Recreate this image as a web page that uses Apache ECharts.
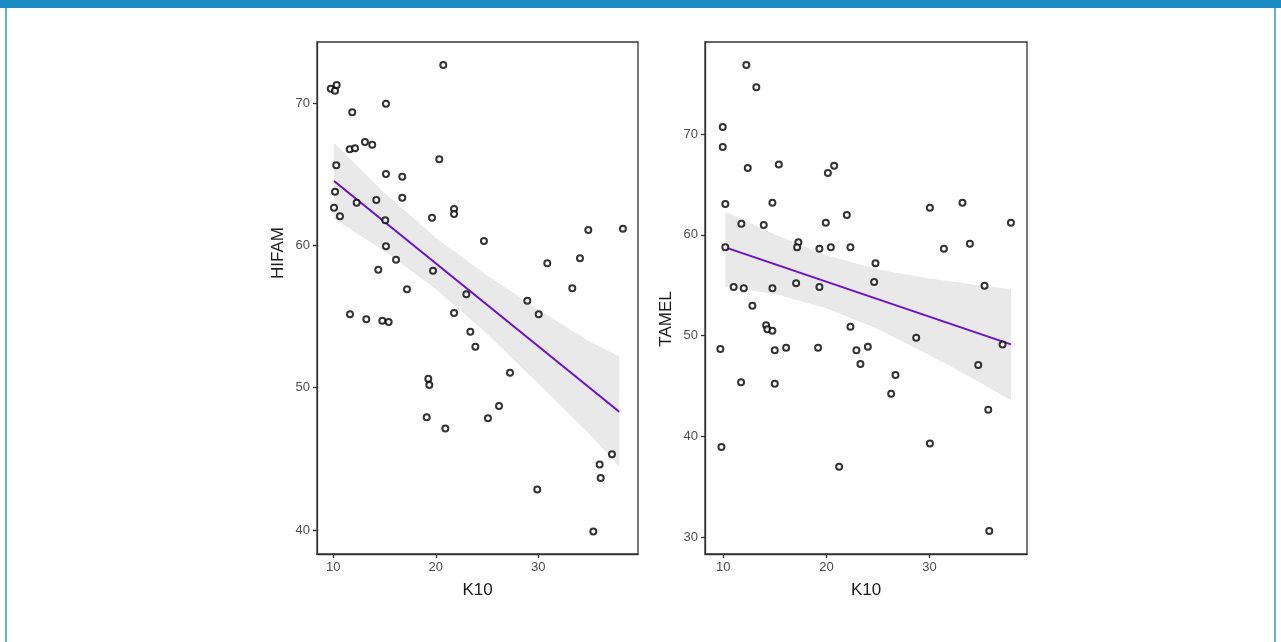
<!DOCTYPE html>
<html>
<head>
<meta charset="utf-8">
<script src="https://cdn.jsdelivr.net/npm/echarts@6/dist/echarts.min.js"></script>
<style>
html, body { margin: 0; padding: 0; background: #fff; }
#chart { width: 1281px; height: 642px; }
.bar { position: absolute; left: 0; top: 0; width: 1281px; height: 8px; background: #1b8ac3; }
.side { position: absolute; top: 8px; width: 2px; height: 634px; background: #5cb3dd; }
</style>
</head>
<body>
<div id="chart"></div>
<div class="bar"></div>
<div class="side" style="left:5px"></div>
<div class="side" style="left:1274px"></div>
<script>
// left panel: K10 vs HIFAM
var k10Left = [20.73, 9.75, 10.17, 10.33, 15.14, 11.85, 13.09, 13.8, 11.6, 12.12,
  20.34, 10.29, 15.14, 16.73, 10.17, 16.73, 12.28, 14.2, 10.07, 10.65,
  21.78, 21.78, 19.63, 15.07, 34.88, 38.26, 24.7, 15.14, 34.07, 30.88,
  16.12, 14.39, 19.73, 33.32, 17.19, 22.98, 28.93, 11.63, 13.22, 14.78,
  15.4, 21.78, 30.04, 23.37, 23.86, 27.24, 19.27, 19.37, 26.17, 19.11,
  25.09, 20.93, 37.19, 35.99, 36.09, 29.9, 35.37];
var hifam = [72.69, 71.03, 70.89, 71.29, 69.97, 69.37, 67.28, 67.09, 66.77, 66.84,
  66.06, 65.64, 65.03, 64.84, 63.78, 63.36, 63.01, 63.2, 62.66, 62.05,
  62.57, 62.22, 61.96, 61.77, 61.09, 61.18, 60.32, 59.94, 59.1, 58.75,
  59.0, 58.3, 58.23, 56.99, 56.92, 56.57, 56.12, 55.16, 54.81, 54.71,
  54.62, 55.25, 55.16, 53.94, 52.88, 51.06, 50.63, 50.19, 48.71, 47.92,
  47.85, 47.14, 45.32, 44.61, 43.65, 42.85, 39.9];

// right panel: K10 vs TAMEL
var k10Right = [12.23, 13.2, 9.94, 9.94, 12.37, 15.38, 20.14, 20.75, 10.19, 14.76,
  30.04, 33.2, 21.98, 11.75, 13.92, 19.94, 37.9, 17.28, 17.16, 19.32,
  20.43, 22.33, 33.92, 31.4, 10.19, 24.76, 24.63, 11.0, 11.98, 14.76,
  17.06, 19.32, 35.34, 12.82, 14.15, 14.27, 14.76, 22.33, 28.71, 9.71,
  14.99, 16.09, 19.19, 22.91, 24.02, 37.09, 23.3, 34.73, 26.7, 11.72,
  14.99, 26.28, 35.7, 9.81, 30.04, 21.23, 35.8];
var tamel = [76.85, 74.63, 70.69, 68.71, 66.63, 66.99, 66.13, 66.86, 63.06, 63.19,
  62.69, 63.19, 61.96, 61.1, 60.97, 61.2, 61.2, 59.26, 58.76, 58.62,
  58.76, 58.76, 59.12, 58.62, 58.76, 57.17, 55.32, 54.82, 54.69, 54.69,
  55.19, 54.82, 54.95, 52.97, 51.02, 50.63, 50.49, 50.89, 49.79, 48.67,
  48.54, 48.8, 48.8, 48.54, 48.9, 49.13, 47.18, 47.08, 46.09, 45.37,
  45.23, 44.24, 42.65, 38.95, 39.31, 37.0, 30.61];

// fitted lines (end points) and grey bands
var fitLeftX = [10.07, 37.9];
var fitLeftY = [64.54, 48.31];
var fitRightX = [10.19, 37.9];
var fitRightY = [58.76, 49.13];

var bandLeftX = [10.07, 15, 20, 25, 30, 35, 37.9];
var bandLeftHi = [67.2, 63.7, 60.55, 57.9, 55.5, 53.25, 52.2];
var bandLeftLo = [61.9, 59.6, 56.95, 53.8, 50.3, 46.75, 44.45];
var bandRightX = [10.19, 15, 20, 25, 30, 35, 37.9];
var bandRightHi = [62.3, 60.04, 57.97, 56.56, 55.68, 54.97, 54.6];
var bandRightLo = [54.85, 54.14, 52.73, 50.66, 48.08, 45.31, 43.6];

var xTicks = [10, 20, 30];
var yTicksLeft = [40, 50, 60, 70];
var yTicksRight = [30, 40, 50, 60, 70];

var font = 'Liberation Sans, Arial, sans-serif';
var myChart = echarts.init(document.getElementById('chart'));

function zip(a, b) {
  return a.map(function (v, i) { return [v, b[i]]; });
}

function xAxisFor(gi, min, max) {
  return {
    type: 'value', gridIndex: gi, min: min, max: max,
    name: 'K10', nameLocation: 'middle', nameGap: 28,
    nameTextStyle: { fontSize: 17, color: '#1a1a1a', fontFamily: font },
    axisLine: { show: true, lineStyle: { color: '#333', width: 1.3 } },
    axisTick: { show: true, length: 4, customValues: xTicks, lineStyle: { color: '#333', width: 1.3 } },
    axisLabel: { customValues: xTicks, fontSize: 13, color: '#4d4d4d', margin: 7, fontFamily: font },
    splitLine: { show: false }
  };
}

function yAxisFor(gi, min, max, name, ticks, pad) {
  return {
    type: 'value', gridIndex: gi, min: min, max: max,
    name: name, nameLocation: 'middle', nameGap: 30,
    nameTextStyle: { fontSize: 17, color: '#1a1a1a', fontFamily: font, padding: pad },
    axisLine: { show: true, lineStyle: { color: '#333', width: 1.3 } },
    axisTick: { show: true, length: 4, customValues: ticks, lineStyle: { color: '#333', width: 1.3 } },
    axisLabel: { customValues: ticks, fontSize: 13, color: '#4d4d4d', margin: 7, fontFamily: font },
    splitLine: { show: false }
  };
}

function band(gi, xs, hi, lo) {
  return {
    type: 'custom', xAxisIndex: gi, yAxisIndex: gi, silent: true, z: 1,
    data: [[xs[0], hi[0]]],
    renderItem: function (params, api) {
      var pts = [];
      for (var i = 0; i < xs.length; i++) pts.push(api.coord([xs[i], hi[i]]));
      for (var j = xs.length - 1; j >= 0; j--) pts.push(api.coord([xs[j], lo[j]]));
      return { type: 'polygon', shape: { points: pts }, style: { fill: '#e9e9e9' } };
    }
  };
}

function fit(gi, xs, ys) {
  return {
    type: 'line', xAxisIndex: gi, yAxisIndex: gi, z: 2, silent: true,
    data: zip(xs, ys), symbol: 'none',
    lineStyle: { color: '#6a0fd2', width: 2 }
  };
}

function dots(gi, xs, ys) {
  return {
    type: 'scatter', xAxisIndex: gi, yAxisIndex: gi, z: 3,
    data: zip(xs, ys), symbol: 'circle', symbolSize: 6,
    itemStyle: { color: '#fff', borderColor: '#000', borderWidth: 2 }
  };
}

var option = {
  animation: false,
  backgroundColor: '#fff',
  grid: [
    { left: 317, top: 42, width: 321, height: 512, show: true, borderColor: '#333', borderWidth: 1.3, backgroundColor: 'transparent' },
    { left: 705, top: 42, width: 322, height: 512, show: true, borderColor: '#333', borderWidth: 1.3, backgroundColor: 'transparent' }
  ],
  xAxis: [xAxisFor(0, 8.41, 39.73), xAxisFor(1, 8.22, 39.46)],
  yAxis: [
    yAxisFor(0, 38.31, 74.31, 'HIFAM', yTicksLeft, [0, 0, 0, 90]),
    yAxisFor(1, 28.34, 79.13, 'TAMEL', yTicksRight, [0, 42, 0, 0])
  ],
  series: [
    band(0, bandLeftX, bandLeftHi, bandLeftLo),
    band(1, bandRightX, bandRightHi, bandRightLo),
    fit(0, fitLeftX, fitLeftY),
    fit(1, fitRightX, fitRightY),
    dots(0, k10Left, hifam),
    dots(1, k10Right, tamel)
  ]
};

myChart.setOption(option);
</script>
</body>
</html>
